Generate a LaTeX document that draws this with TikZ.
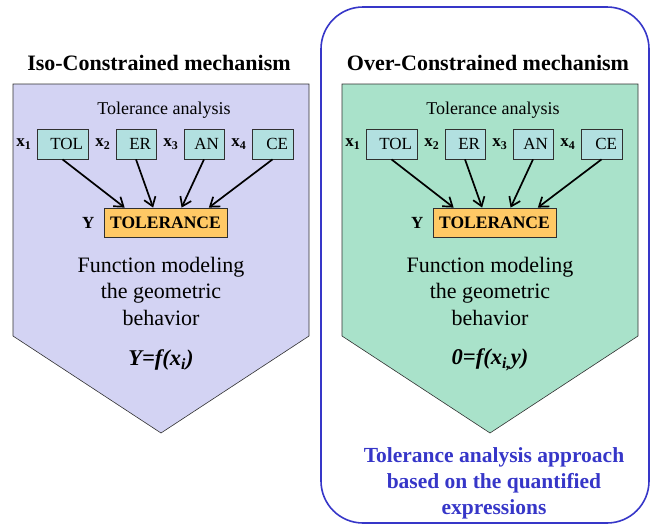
\documentclass[tikz,border=0pt]{standalone}
\usepackage{fontspec}
\setmainfont{Liberation Serif}
\usetikzlibrary{calc,arrows.meta,positioning}

\begin{document}
\begin{tikzpicture}[
    x=1pt, y=-1pt,
    every node/.style={font=\fontsize{17}{20}\selectfont},
    titletext/.style={font=\fontsize{22}{26}\selectfont\bfseries},
    factorbox/.style={draw=boxedge, fill=factorfill, line width=0.8pt,
      minimum height=30pt, text width=#1, align=right, inner xsep=5pt, inner ysep=0pt},
    factorbox/.default=30pt,
    outputbox/.style={draw=boxedge, fill=tolfill, line width=0.8pt,
      minimum width=123pt, minimum height=29pt, inner sep=0pt, font=\fontsize{17.5}{20}\selectfont\bfseries},
    varlabel/.style={inner sep=1pt, font=\fontsize{17}{20}\selectfont\bfseries},
    bodytext/.style={align=center, font=\fontsize{22}{26.5}\selectfont},
    formula/.style={font=\fontsize{22.5}{26}\selectfont\bfseries\itshape},
    flow/.style={line width=1.7pt, -{Straight Barb[length=8.5pt, width=12pt]}},
  ]
    \definecolor{boxedge}{HTML}{303030}
    \definecolor{isofill}{HTML}{D3D3F3}
    \definecolor{overfill}{HTML}{A9E2CA}
    \definecolor{factorfill}{HTML}{B2E0E0}
    \definecolor{tolfill}{HTML}{FFC965}
    \definecolor{approachblue}{HTML}{3636C8}

    \useasboundingbox (0,0) rectangle (650,525);

    \newcommand{\mechpanel}[4]{%
      \draw[boxedge, line width=0.6pt, fill=#2]
        (13,84) -- (309,84) -- (309,336) -- (161,433) -- (13,336) -- cycle;
      \node[titletext] (#1title) at (159,63) {#3};
      \node[font=\fontsize{18}{21}\selectfont] (#1head) at (164,110) {Tolerance analysis};
      \node[factorbox=41pt] (#1tol) at (62.5,144) {TOL};
      \node[factorbox=30pt] (#1er) at (136,144) {ER};
      \node[factorbox=30pt] (#1an) at (204,144) {AN};
      \node[factorbox=31pt] (#1ce) at (272.5,144) {CE};
      \node[varlabel, left=4pt of #1tol] (#1xa) {x\textsubscript{1}};
      \node[varlabel, left=4pt of #1er] (#1xb) {x\textsubscript{2}};
      \node[varlabel, left=4pt of #1an] (#1xc) {x\textsubscript{3}};
      \node[varlabel, left=4pt of #1ce] (#1xd) {x\textsubscript{4}};
      \node[outputbox] (#1tot) at (165.5,222.5) {TOLERANCE};
      \node[varlabel, left=8pt of #1tot] (#1y) {Y};
      \foreach \src/\f in {tol/0.17, er/0.40, an/0.63, ce/0.85}{
        \draw[flow] (#1\src.south) -- ($(#1tot.north west)!\f!(#1tot.north east)$);
      }
      \node[bodytext] (#1model) at (161,291) {Function modeling\\the geometric\\behavior};
      \node[formula] (#1eq) at (161,360) {#4};
    }

    % ============ panel 1: iso-constrained ============
    \begin{scope}[xshift=0]
      \mechpanel{iso}{isofill}{Iso-Constrained mechanism}{Y=f(x\textsubscript{i})}
    \end{scope}

    % ============ panel 2: over-constrained ============
    \begin{scope}[xshift=329]
      \mechpanel{over}{overfill}{Over-Constrained mechanism}{0=f(x\textsubscript{i,}y)}
    \end{scope}

    \draw[approachblue, line width=1.6pt, rounded corners=42pt] (321,7) rectangle (649,523);
    \node[align=center, text=approachblue, font=\fontsize{21.5}{26}\selectfont\bfseries]
      (approach) at (494,483) {Tolerance analysis approach\\based on the quantified\\expressions};
  \end{tikzpicture}
\end{document}
